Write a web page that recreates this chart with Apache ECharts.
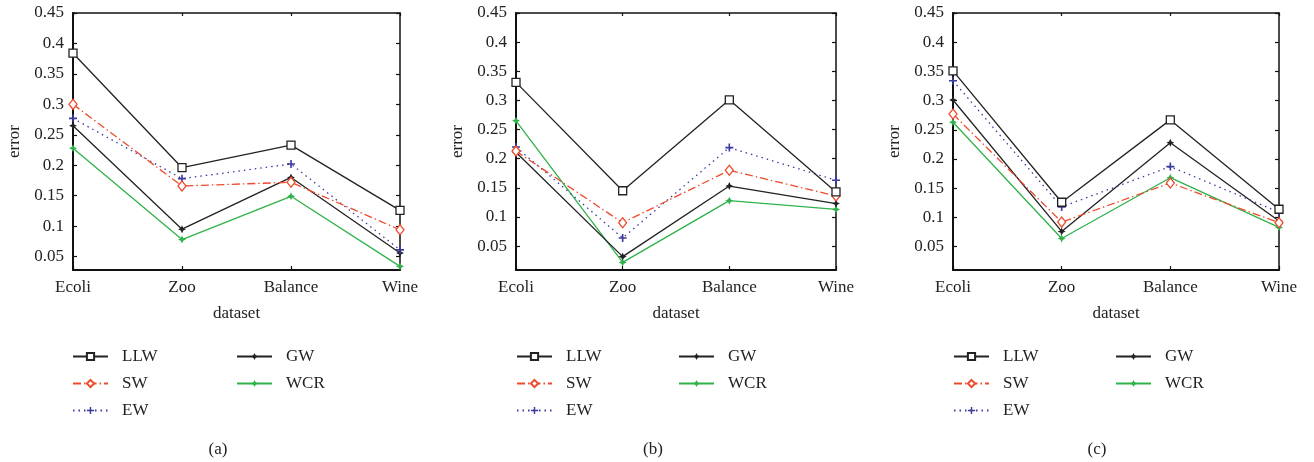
<!DOCTYPE html>
<html>
<head>
<meta charset="utf-8">
<script src="https://cdn.jsdelivr.net/npm/echarts@6/dist/echarts.min.js"></script>
<style>
html,body{margin:0;padding:0;background:#fff;}
#chart{width:1314px;height:462px;}
</style>
</head>
<body>
<div id="chart"></div>
<script>
// ---- data ----
const categories = ['Ecoli', 'Zoo', 'Balance', 'Wine'];
const seriesNames = ['LLW', 'SW', 'EW', 'GW', 'WCR'];
const yTicks = [0.05, 0.1, 0.15, 0.2, 0.25, 0.3, 0.35, 0.4, 0.45];
const panelLabels = ['(a)', '(b)', '(c)'];
const yMinA = 0.028, yMinB = 0.009, yMinC = 0.01, yMax = 0.45;

// panel (a)
const a_LLW = [0.384, 0.196, 0.233, 0.126];
const a_SW  = [0.300, 0.166, 0.172, 0.094];
const a_EW  = [0.277, 0.178, 0.202, 0.061];
const a_GW  = [0.265, 0.095, 0.180, 0.056];
const a_WCR = [0.228, 0.078, 0.149, 0.034];
// panel (b)
const b_LLW = [0.331, 0.145, 0.301, 0.143];
const b_SW  = [0.213, 0.090, 0.180, 0.136];
const b_EW  = [0.220, 0.064, 0.219, 0.163];
const b_GW  = [0.211, 0.032, 0.153, 0.123];
const b_WCR = [0.265, 0.022, 0.128, 0.113];
// panel (c)
const c_LLW = [0.351, 0.126, 0.267, 0.114];
const c_SW  = [0.277, 0.092, 0.159, 0.091];
const c_EW  = [0.334, 0.118, 0.187, 0.109];
const c_GW  = [0.301, 0.076, 0.228, 0.094];
const c_WCR = [0.263, 0.064, 0.168, 0.083];

const panels = [
  {data: [a_LLW, a_SW, a_EW, a_GW, a_WCR], min: yMinA},
  {data: [b_LLW, b_SW, b_EW, b_GW, b_WCR], min: yMinB},
  {data: [c_LLW, c_SW, c_EW, c_GW, c_WCR], min: yMinC}
];

// ---- styles ----
const FONT = 'Liberation Serif';
const TXT = '#222';
const plusPath = 'path://M4,0H6V4H10V6H6V10H4V6H0V4H4Z';
const starPath = 'path://M5,0L6.6,3.4L10,5L6.6,6.6L5,10L3.4,6.6L0,5L3.4,3.4Z';
const styles = {
  LLW: {color: '#222', type: 'solid', symbol: 'rect', size: 8, hollow: true},
  SW:  {color: '#ee4a2c', type: [8, 3, 1.5, 3], symbol: 'diamond', size: [8, 10], hollow: true},
  EW:  {color: '#3a3aa0', type: [1.5, 4], symbol: plusPath, size: 8, hollow: false},
  GW:  {color: '#222', type: 'solid', symbol: starPath, size: 8, hollow: false},
  WCR: {color: '#2fb24a', type: 'solid', symbol: starPath, size: 8, hollow: false}
};

const grids = [
  {left: 73, right: 914, top: 13, bottom: 192},
  {left: 516, right: 478, top: 13, bottom: 192},
  {left: 953, right: 35, top: 13, bottom: 192}
];
const legendCols = [[72, 236], [516, 678], [953, 1115]];
const captionX = [213, 648, 1092];

const xAxes = [], yAxes = [], series = [], legends = [], titles = [];
panels.forEach((p, i) => {
  // bottom x
  xAxes.push({
    type: 'category', gridIndex: i, data: categories, boundaryGap: false, position: 'bottom',
    axisLine: {lineStyle: {color: '#111', width: 2}},
    axisTick: {inside: true, length: 4, lineStyle: {color: '#111', width: 1.2}},
    axisLabel: {color: TXT, fontFamily: FONT, fontSize: 17, margin: 9},
    name: 'dataset', nameLocation: 'middle', nameGap: 35,
    nameTextStyle: {color: TXT, fontFamily: FONT, fontSize: 17}
  });
  // top x (frame)
  xAxes.push({
    type: 'category', gridIndex: i, data: categories, boundaryGap: false, position: 'top',
    axisLine: {lineStyle: {color: '#111', width: 1.5}},
    axisTick: {inside: true, length: 3, lineStyle: {color: '#111', width: 1.2}},
    axisLabel: {show: false}
  });
  yAxes.push({
    type: 'value', gridIndex: i, min: p.min, max: yMax, position: 'left',
    splitLine: {show: false},
    axisLine: {show: true, lineStyle: {color: '#111', width: 2}},
    axisTick: {show: true, inside: true, length: 4, customValues: yTicks, lineStyle: {color: '#111', width: 1.2}},
    axisLabel: {color: TXT, fontFamily: FONT, fontSize: 17, margin: 9, customValues: yTicks,
      formatter: v => String(+v.toFixed(2))},
    name: 'error', nameLocation: 'middle', nameGap: 50,
    nameTextStyle: {color: TXT, fontFamily: FONT, fontSize: 17}
  });
  yAxes.push({
    type: 'value', gridIndex: i, min: p.min, max: yMax, position: 'right',
    splitLine: {show: false},
    axisLine: {show: true, lineStyle: {color: '#111', width: 1.5}},
    axisTick: {show: true, inside: true, length: 4, customValues: yTicks, lineStyle: {color: '#111', width: 1.2}},
    axisLabel: {show: false}
  });
  seriesNames.forEach((n, k) => {
    const s = styles[n];
    series.push({
      type: 'line', name: n, xAxisIndex: i * 2, yAxisIndex: i * 2,
      data: p.data[k],
      symbol: s.symbol, symbolSize: s.size, showAllSymbol: true,
      lineStyle: {color: s.color, width: 1.3, type: s.type},
      itemStyle: s.hollow ? {color: '#fff', borderColor: s.color, borderWidth: 1.3}
                          : {color: s.color, borderWidth: 0},
      emphasis: {disabled: true},
      animation: false, z: 5 - k
    });
  });
  const legendBase = {
    orient: 'vertical', top: 348, padding: 0, itemWidth: 35, itemHeight: 9, itemGap: 10,
    textStyle: {color: TXT, fontFamily: FONT, fontSize: 17, lineHeight: 17, padding: [0, 0, 0, 9]},
    selectedMode: false
  };
  legends.push(Object.assign({}, legendBase, {left: legendCols[i][0], data: ['LLW', 'SW', 'EW']}));
  legends.push(Object.assign({}, legendBase, {left: legendCols[i][1], data: ['GW', 'WCR']}));
  titles.push({
    text: panelLabels[i], left: captionX[i], top: 436,
    textAlign: 'center',
    textStyle: {color: TXT, fontFamily: FONT, fontSize: 17, fontWeight: 'normal'}
  });
});

const chart = echarts.init(document.getElementById('chart'), null, {renderer: 'canvas'});
chart.setOption({
  animation: false,
  backgroundColor: '#fff',
  title: titles,
  grid: grids,
  xAxis: xAxes,
  yAxis: yAxes,
  legend: legends,
  series: series
});
</script>
</body>
</html>
